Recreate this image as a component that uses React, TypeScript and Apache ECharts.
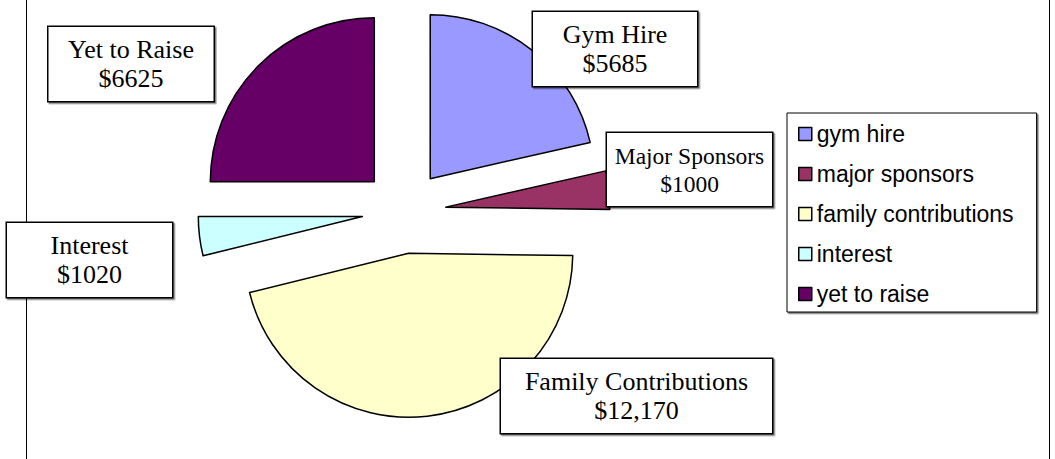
import React, { useEffect, useRef } from "react";
import * as echarts from "echarts";

// ---- data ----
const legendNames = ["gym hire", "major sponsors", "family contributions", "interest", "yet to raise"];
const labelNames = ["Gym Hire", "Major Sponsors", "Family Contributions", "Interest", "Yet to Raise"];
const values = [5685, 1000, 12170, 1020, 6625];
const valueLabels = ["$5685", "$1000", "$12,170", "$1020", "$6625"];
const colors = ["#9999FF", "#993366", "#FFFFCC", "#CCFFFF", "#660066"];

// ---- label box layout (centres, widths) ----
const labelPos = [
  [615, 49],
  [689.5, 169.5],
  [636.5, 396],
  [89.5, 260],
  [131, 64],
];
const labelWidth = [164, 165, 271, 165, 165];
const labelFont = [26, 23.5, 26, 26, 26];

export default function App() {
  const ref = useRef<HTMLDivElement>(null);
  useEffect(() => {
    if (!ref.current) return;
    const chart = echarts.init(ref.current, null, { renderer: "svg" });
    const serif = "'Liberation Serif', 'Times New Roman', serif";
    const sans = "'Liberation Sans', Arial, sans-serif";
    const data = values.map((v, i) => ({
      name: legendNames[i],
      value: v,
      selected: true,
      itemStyle: { color: colors[i] },
    }));
    const labelBoxes = labelNames.map((n, i) => {
      const small = labelFont[i] < 25;
      return {
        type: "text",
        z: 10,
        x: labelPos[i][0],
        y: labelPos[i][1],
        style: {
          text: n + "\n" + valueLabels[i],
          font: `${labelFont[i]}px ${serif}`,
          fill: "#000",
          align: "center",
          verticalAlign: "middle",
          lineHeight: small ? 28 : 29,
          width: labelWidth[i],
          padding: small ? [1, 0, 16, 0] : [0, 0, 16, 0],
          backgroundColor: "#ffffff",
          borderColor: "#000",
          borderWidth: 1.5,
          shadowColor: "rgba(0,0,0,0.5)",
          shadowOffsetX: 1.5,
          shadowOffsetY: 1.5,
          shadowBlur: 0,
        },
      };
    });
    chart.setOption({
      animation: false,
      backgroundColor: "#ffffff",
      graphic: [
        { type: "line", z: 0, shape: { x1: 26.5, y1: 0, x2: 26.5, y2: 459 }, style: { stroke: "#000", lineWidth: 1 } },
        { type: "line", z: 0, shape: { x1: 1049.5, y1: 0, x2: 1049.5, y2: 459 }, style: { stroke: "#000", lineWidth: 1 } },
        ...labelBoxes,
      ],
      legend: {
        orient: "vertical",
        left: 787,
        top: 113,
        data: legendNames,
        icon: "rect",
        itemWidth: 13,
        itemHeight: 13,
        itemGap: 14,
        itemTextGap: 7,
        padding: [8, 23, 5, 11],
        backgroundColor: "#ffffff",
        borderColor: "#000",
        borderWidth: 1,
        shadowColor: "rgba(0,0,0,0.55)",
        shadowOffsetX: 1.5,
        shadowOffsetY: 1.5,
        shadowBlur: 0,
        selectedMode: false,
        itemStyle: { borderColor: "#000", borderWidth: 1.5 },
        textStyle: { fontFamily: sans, fontSize: 23, color: "#000", lineHeight: 26 },
      },
      series: [
        {
          type: "pie",
          z: 2,
          center: [404, 211.5],
          radius: 164,
          startAngle: 90,
          clockwise: true,
          selectedMode: "multiple",
          selectedOffset: 42,
          avoidLabelOverlap: false,
          emphasis: { disabled: true },
          itemStyle: { borderColor: "#000", borderWidth: 1.5 },
          label: { show: false },
          labelLine: { show: false },
          data,
        },
      ],
    });
    return () => chart.dispose();
  }, []);
  return (
    <div
      ref={ref}
      style={{ position: "absolute", left: 0, top: 0, width: 1055, height: 459 }}
    />
  );
}
